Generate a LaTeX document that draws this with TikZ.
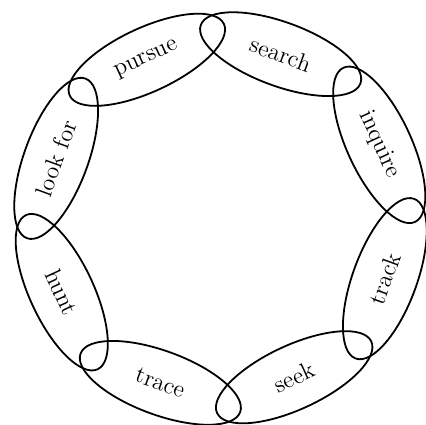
\documentclass[tikz,border=0pt]{standalone}
\usepackage{tikz}
\usetikzlibrary{shapes.geometric}

\begin{document}
\begin{tikzpicture}[
  x=1pt, y=1pt,
  oval/.style={draw, ellipse, line width=0.9pt, minimum width=85pt, minimum height=32pt, inner sep=0pt, font=\large},
]
  \useasboundingbox (-110.25pt,-102.75pt) rectangle (102.75pt,109.25pt);
  % upper half, read clockwise
  \node[oval, rotate=-65.1] (inquire) at (24.9:87.5pt) {inquire};
  \node[oval, rotate=-20.1] (search) at (69.9:87.5pt) {search};
  \node[oval, rotate=24.9] (pursue) at (114.9:87.5pt) {pursue};
  \node[oval, rotate=69.9] (lookfor) at (159.9:87.5pt) {look for};
  % lower half, read anticlockwise
  \node[oval, rotate=-65.1] (hunt) at (204.9:87.5pt) {hunt};
  \node[oval, rotate=-20.1] (trace) at (249.9:87.5pt) {trace};
  \node[oval, rotate=24.9] (seek) at (294.9:87.5pt) {seek};
  \node[oval, rotate=69.9] (track) at (339.9:87.5pt) {track};
\end{tikzpicture}
\end{document}
